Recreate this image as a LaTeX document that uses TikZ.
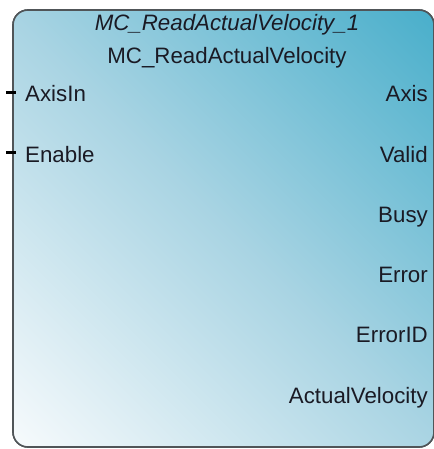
\documentclass[tikz,border=0pt]{standalone}
\usepackage{fontspec}
\setmainfont{Liberation Sans}
\usepackage{tikz}
\usetikzlibrary{calc}
\usepackage{xcolor}

\definecolor{fbDark}{HTML}{4AAFCB}
\definecolor{fbMid}{HTML}{A9D4E3}
\definecolor{fbLight}{HTML}{F6FAFC}
\definecolor{fbEdge}{HTML}{505558}
\definecolor{fbText}{HTML}{1A1A24}

\pgfdeclareverticalshading{fbGrad}{100bp}{color(0bp)=(fbLight); color(15bp)=(fbLight);
  color(50bp)=(fbMid); color(85bp)=(fbDark); color(100bp)=(fbDark)}

\tikzset{
  fbox/.style={draw=fbEdge, line width=1.6pt, rounded corners=15pt,
    shading=fbGrad, shading angle=-45},
  lbl/.style={inner sep=0pt, text=fbText, font=\fontsize{22.3}{26}\selectfont},
  pinline/.style={black, line width=3pt}
}

\begin{document}
\begin{tikzpicture}[x=1pt, y=-1pt]
            \useasboundingbox (0,0) rectangle (433,449);
            \coordinate (nw) at (13,10);
            \coordinate (se) at (434,447);
            \shade[fbox] (nw) rectangle (se);
            \draw[fbox] (nw) rectangle (se);
            \node[lbl, anchor=base, font=\fontsize{22.3}{26}\selectfont\itshape] (inst) at (227,30.5) {MC\_ReadActualVelocity\_1};
            \node[lbl, anchor=base] (type) at (227,64) {MC\_ReadActualVelocity};
            \node[lbl, anchor=base west] (inAxis) at (25,102) {AxisIn};
            \node[lbl, anchor=base west] (inEnable) at (25,162) {Enable};
            \node[lbl, anchor=base east] (outAxis) at (428,102) {Axis};
            \node[lbl, anchor=base east] (outValid) at (428,162.2) {Valid};
            \node[lbl, anchor=base east] (outBusy) at (428,222.4) {Busy};
            \node[lbl, anchor=base east] (outError) at (428,282.6) {Error};
            \node[lbl, anchor=base east] (outErrorID) at (428,342.8) {ErrorID};
            \node[lbl, anchor=base east] (outVelocity) at (428,403) {ActualVelocity};
            \coordinate (pinAxis) at (6,93);
            \coordinate (pinEnable) at (6,152.5);
            \draw[pinline] (pinAxis) -- (pinAxis -| nw) -- ++(3,0);
            \draw[pinline] (pinEnable) -- (pinEnable -| nw) -- ++(3,0);
        \end{tikzpicture}
\end{document}
